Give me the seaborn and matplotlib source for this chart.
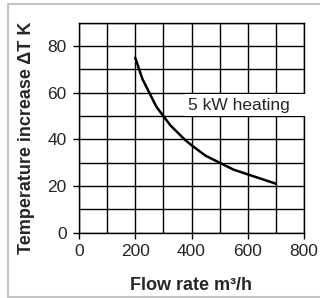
import numpy as np
import matplotlib
matplotlib.use("Agg")
import matplotlib.pyplot as plt
from matplotlib.lines import Line2D
from matplotlib.patches import Rectangle
import seaborn as sns

# curve
flow = [200, 225, 250, 275, 300, 325, 350, 375, 400, 450, 500, 550, 600, 650, 700]
delta_t = [75, 66, 60, 54, 50, 46, 43, 40, 37.5, 33, 30, 27, 25, 23, 21]

x_ticks = [0, 200, 400, 600, 800]
y_ticks = [0, 20, 40, 60, 80]
curve_label = "5 kW heating"

sns.set_style("white")
plt.rcParams['font.family'] = ['Liberation Sans', 'DejaVu Sans']

fig = plt.figure(figsize=(3.2, 2.98), dpi=100)
ax = fig.add_axes([79 / 320, 1 - 232.7 / 298, 225 / 320, 210 / 298])

sns.lineplot(x=flow, y=delta_t, ax=ax, color='black', linewidth=1.8, zorder=5)

ax.set_xlim(0, 800)
ax.set_ylim(0, 90)
ax.set_xticks(x_ticks)
ax.set_yticks(y_ticks)
ax.set_xticks(np.arange(0, 801, 100), minor=True)
ax.set_yticks(np.arange(0, 91, 10), minor=True)
ax.grid(which='both', color='black', linewidth=1.0)
ax.set_axisbelow(True)
ax.tick_params(which='major', direction='out', length=4.5, width=1.0, color='black',
               labelsize=12.5, bottom=True, left=True)
ax.tick_params(axis='x', pad=3.4)
ax.tick_params(axis='y', pad=4.3)
ax.tick_params(which='minor', length=0)
for s in ax.spines.values():
    s.set_color('black')
    s.set_linewidth(1.0)

ax.set_xlabel("Flow rate m³/h", fontsize=13, fontweight='bold', va='center')
ax.set_ylabel("Temperature increase ΔT K", fontsize=13, fontweight='bold', va='center')
ax.xaxis.set_label_coords(0.5, -(285 - 232.7) / 210)
ax.yaxis.set_label_coords(-(79 - 27) / 225, 0.45)

# white label box hiding the grid
ax.add_patch(Rectangle((377, 50.2), 430, 9.3, facecolor='white', edgecolor='none',
                       zorder=4, clip_on=False))
ax.text(567, 54.7, curve_label, ha='center', va='center', fontsize=12.5, zorder=6)

# light frame round the figure
fc = '#c4c4c4'
fig.add_artist(Line2D([8 / 320, 1], [1 - 4 / 298, 1 - 4 / 298], color=fc, lw=1.5))
fig.add_artist(Line2D([8 / 320, 8 / 320], [1 - 4 / 298, 1 - 297 / 298], color=fc, lw=1.5))
fig.add_artist(Line2D([8 / 320, 1], [1 - 297 / 298, 1 - 297 / 298], color=fc, lw=1.5))

fig.savefig("out.png", dpi=100)
